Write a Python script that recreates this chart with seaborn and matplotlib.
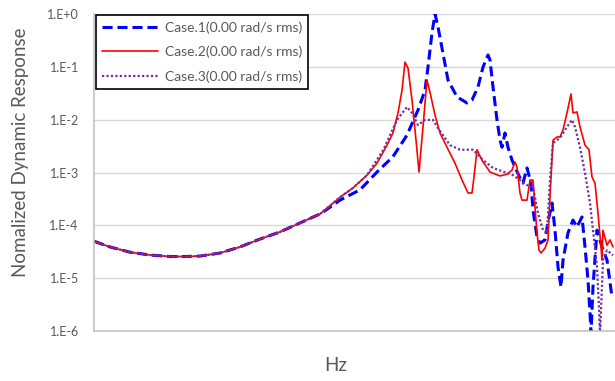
import matplotlib
matplotlib.use("Agg")
import matplotlib.pyplot as plt
from matplotlib.ticker import FixedLocator, FixedFormatter, NullLocator
import pandas as pd
import seaborn as sns

# Low-frequency range where all three cases coincide
base_hz = [0, 16, 36, 56, 76, 91, 106, 126, 146, 166, 186, 206, 226]
base_resp = [5.0e-5, 3.9e-5, 3.1e-5, 2.74e-5, 2.57e-5, 2.57e-5, 2.62e-5,
             2.99e-5, 3.9e-5, 5.5e-5, 7.5e-5, 1.11e-4, 1.64e-4]

# Case.1
case1_hz = [236, 246, 266, 283, 299, 313, 324, 331, 334, 338, 341, 344, 349,
            354, 363, 373, 378, 384, 389, 394, 396, 399, 403, 406, 408, 411,
            414, 418, 421, 426, 429, 433, 437, 439, 443, 446, 451, 454, 458,
            461, 464, 467, 469, 474, 479, 483, 488, 491, 494, 496, 497, 499,
            503, 508, 513, 518]
case1_resp = [2.2e-4, 3.0e-4, 4.7e-4, 1.02e-3, 2.0e-3, 5.1e-3, 1.52e-2, 3.6e-2,
              9.9e-2, 0.44, 1.0, 0.57, 0.18, 5.6e-2, 2.7e-2, 2.07e-2, 2.35e-2,
              4.15e-2, 9.9e-2, 0.167, 0.135, 4.15e-2, 9.9e-3, 4.1e-3, 3.0e-3,
              5.6e-3, 3.0e-3, 1.72e-3, 1.27e-3, 7.9e-4, 6.3e-4, 1.22e-3, 6.3e-4,
              1.95e-4, 6.0e-5, 4.6e-5, 5.3e-5, 1.16e-4, 2.65e-4, 8.1e-5, 1.63e-5,
              6.8e-6, 2.2e-5, 7.2e-5, 1.26e-4, 9.3e-5, 1.44e-4, 3.9e-5, 9.2e-6,
              2.2e-6, 9.0e-7, 6.8e-6, 8.1e-5, 3.9e-5, 2.2e-5, 4.4e-6]

# Case.2
case2_hz = [236, 246, 259, 273, 283, 293, 299, 304, 308, 311, 314, 318, 322,
            325, 329, 333, 336, 341, 346, 353, 361, 368, 374, 378, 380, 383,
            388, 396, 406, 413, 418, 421, 423, 426, 428, 433, 436, 439, 441,
            443, 445, 447, 451, 454, 456, 459, 463, 466, 469, 473, 477, 479,
            483, 486, 491, 495, 498, 501, 504, 507, 508, 509, 513, 516, 519]
case2_resp = [2.35e-4, 3.4e-4, 5.1e-4, 8.9e-4, 1.5e-3, 3.3e-3, 5.6e-3, 1.34e-2,
              3.6e-2, 0.123, 9.5e-2, 2.35e-2, 4.1e-3, 1.02e-3, 7.3e-3, 5.6e-2,
              3.3e-2, 1.22e-2, 5.6e-3, 3.0e-3, 1.5e-3, 7.2e-4, 4.1e-4, 4.1e-4,
              8.2e-4, 2.7e-3, 1.7e-3, 1.02e-3, 8.6e-4, 9.3e-4, 1.11e-3, 1.58e-3,
              1.27e-3, 4.1e-4, 3.0e-4, 3.0e-4, 7.2e-4, 7.2e-4, 2.2e-4, 7.2e-5,
              3.4e-5, 3.0e-5, 3.7e-5, 5.3e-5, 3.4e-4, 4.1e-3, 4.7e-3, 4.7e-3,
              6.4e-3, 1.34e-2, 3.06e-2, 1.34e-2, 1.4e-2, 7.3e-3, 3.3e-3, 2.7e-3,
              8.2e-4, 6.3e-4, 1.7e-4, 3.9e-5, 2.2e-5, 8.1e-5, 4.2e-5, 5.3e-5,
              3.9e-5]

# Case.3
case3_hz = [236, 246, 259, 273, 289, 303, 313, 318, 324, 331, 339, 344, 356,
            366, 379, 389, 399, 413, 419, 426, 433, 439, 444, 449, 453, 456,
            459, 466, 473, 478, 481, 486, 491, 496, 499, 503, 505, 506, 509,
            513, 519]
case3_resp = [2.35e-4, 3.4e-4, 5.1e-4, 8.9e-4, 2.6e-3, 9.9e-3, 1.74e-2, 1.34e-2,
              7.9e-3, 9.9e-3, 9.9e-3, 6.9e-3, 3.3e-3, 2.7e-3, 2.7e-3, 1.72e-3,
              1.22e-3, 9.8e-4, 8.9e-4, 7.2e-4, 5.8e-4, 5.3e-4, 1.7e-4, 8.1e-5,
              7.2e-5, 7.2e-4, 3.6e-3, 4.5e-3, 7.3e-3, 9.9e-3, 7.3e-3, 3.0e-3,
              9.8e-4, 2.65e-4, 8.1e-5, 1.63e-5, 2.8e-6, 8.0e-7, 2.2e-5, 3.4e-5,
              2.7e-5]

case_labels = ["Case.1(0.00 rad/s rms)", "Case.2(0.00 rad/s rms)",
               "Case.3(0.00 rad/s rms)"]

series = [
    (case_labels[0], case1_hz, case1_resp,
     dict(color="#0000FF", linewidth=2.2, linestyle=(0, (3.3, 1.6)))),
    (case_labels[1], case2_hz, case2_resp,
     dict(color="#FF0000", linewidth=1.2, linestyle="-")),
    (case_labels[2], case3_hz, case3_resp,
     dict(color="#7030A0", linewidth=1.6, linestyle=(0, (1, 1)))),
]

sns.set_theme(style="white")
plt.rcParams["font.family"] = ["Lato", "DejaVu Sans"]

fig = plt.figure(figsize=(6.15, 3.81), dpi=100)
ax = fig.add_axes([94 / 615, 50 / 381, 521 / 615, 317 / 381])

for label, hz, resp, style in series:
    df = pd.DataFrame({"Hz": base_hz + hz, "Response": base_resp + resp})
    sns.lineplot(data=df, x="Hz", y="Response", ax=ax, label=label,
                 estimator=None, sort=False, **style)

ax.set_yscale("log")
ax.set_ylim(1e-6, 1e0)
ax.set_xlim(0, 521)

exps = list(range(-6, 1))
ax.yaxis.set_major_locator(FixedLocator([10.0 ** k for k in exps]))
ax.yaxis.set_major_formatter(FixedFormatter([f"1.E{k:+d}" for k in exps]))
ax.yaxis.set_minor_locator(NullLocator())
ax.set_xticks([])

ax.yaxis.grid(True, color="#d9d9d9", linewidth=1.0)
ax.xaxis.grid(False)
ax.set_axisbelow(True)
for side in ("top", "right"):
    ax.spines[side].set_visible(False)
for side in ("left", "bottom"):
    ax.spines[side].set_color("#bfbfbf")
    ax.spines[side].set_linewidth(1.1)

ax.tick_params(axis="y", length=0, pad=11, labelsize=9, labelcolor="#595959")

ax.set_ylabel("Nomalized Dynamic Response", fontsize=13.5, color="#595959",
              va="center")
ax.yaxis.set_label_coords(-0.142, 0.565)
ax.set_xlabel("Hz", fontsize=13.5, color="#595959", va="center")
ax.xaxis.set_label_coords(0.4645, -0.110)

leg = ax.legend(loc="upper left", bbox_to_anchor=(2 / 521, 1 - 1 / 317),
                borderaxespad=0, frameon=True, fancybox=False,
                edgecolor="black", framealpha=1, fontsize=10,
                labelcolor="#595959", handlelength=4.0, handletextpad=0.5,
                borderpad=0.45, labelspacing=0.85)
leg.get_frame().set_linewidth(1.2)

fig.savefig("out.png", dpi=100)
